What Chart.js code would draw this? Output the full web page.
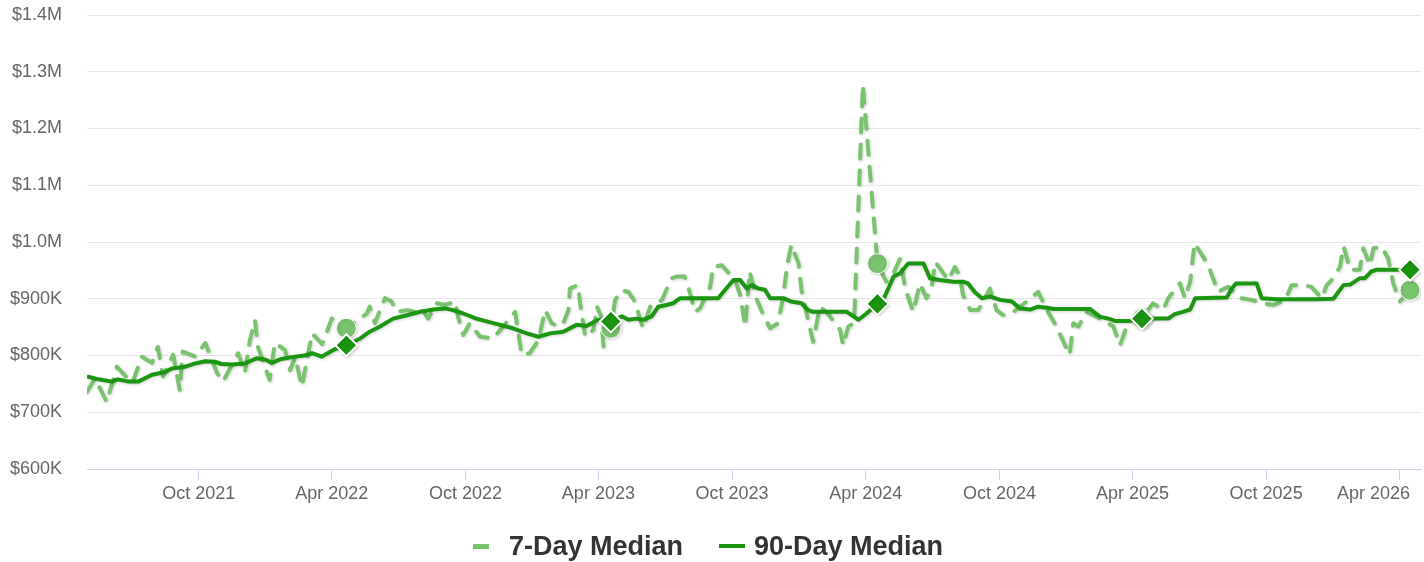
<!DOCTYPE html>
<html>
<head>
<meta charset="utf-8">
<script src="https://cdn.jsdelivr.net/npm/chart.js@4.4.1/dist/chart.umd.min.js"></script>
<style>
  html, body { margin: 0; padding: 0; background: #fff; }
  #wrap { position: relative; width: 1424px; height: 562px; }
  #legenda {
    position: absolute; left: 0; right: 0; top: 530px; height: 32px;
    display: flex; justify-content: center; align-items: center;
    padding-right: 8px;
    font: bold 27px "Liberation Sans", Arial, sans-serif; color: #333; line-height: 32px;
  }
  .marca7 { width: 16px; height: 5px; background: #79c36e; margin-right: 20px; }
  .marca90 { width: 26px; height: 4px; background: #1a9610; margin-left: 36px; margin-right: 9px; }
</style>
</head>
<body>
<div id="wrap">
  <canvas id="grafico-mediana" width="1424" height="562"></canvas>
  <div id="legenda">
    <span class="marca7"></span><span>7-Day Median</span>
    <span class="marca90"></span><span>90-Day Median</span>
  </div>
</div>
<script>
// dias contados a partir de 2021-05-01
const tickDays = [153, 335, 518, 700, 883, 1066, 1249, 1431, 1614, 1796];
const tickLabels = ['Oct 2021', 'Apr 2022', 'Oct 2022', 'Apr 2023', 'Oct 2023',
    'Apr 2024', 'Oct 2024', 'Apr 2025', 'Oct 2025', 'Apr 2026'];

// pontos com marcador (um por ano + o último)
const markerDays = [355, 717, 1082, 1444, 1811];

const dias7 = [0, 11, 27, 41, 62, 75, 89, 97, 104, 118, 127, 131, 148, 162, 178, 186, 207, 216, 223, 230,
    234, 250, 257, 271, 278, 285, 294, 308, 322, 335, 355, 383, 387, 394, 401, 408, 417, 424, 438, 449,
    458, 467, 479, 490, 504, 508, 515, 524, 538, 556, 586, 595, 606, 618, 627, 636, 645, 652, 659, 661,
    672, 675, 682, 693, 698, 704, 707, 717, 723, 732, 741, 750, 761, 771, 787, 800, 807, 818, 825, 832,
    839, 853, 857, 869, 887, 894, 901, 907, 917, 926, 935, 946, 953, 958, 964, 974, 978, 985, 994, 1003,
    1012, 1031, 1035, 1042, 1050, 1062, 1082, 1094, 1104, 1113, 1120, 1131, 1140, 1149, 1156, 1161, 1172, 1179, 1188, 1195,
    1199, 1209, 1220, 1236, 1245, 1254, 1268, 1286, 1302, 1314, 1327, 1345, 1350, 1357, 1368, 1387, 1405, 1414, 1423, 1437,
    1444, 1459, 1473, 1480, 1496, 1503, 1510, 1516, 1532, 1537, 1544, 1548, 1562, 1580, 1594, 1610, 1624, 1640, 1649, 1665,
    1676, 1690, 1697, 1706, 1715, 1720, 1724, 1729, 1742, 1747, 1756, 1761, 1772, 1781, 1788, 1797, 1811];

const mediana7 = [736, 760, 718, 780, 751, 798, 787, 815, 763, 801, 739, 807, 798, 822, 769, 754, 804, 769, 827, 862,
    815, 757, 822, 810, 774, 798, 745, 839, 820, 865, 848, 874, 886, 857, 880, 901, 895, 877, 880, 877,
    883, 865, 892, 889, 895, 868, 836, 857, 833, 830, 877, 801, 804, 827, 880, 857, 851, 857, 880, 918,
    924, 892, 833, 845, 886, 868, 815, 848, 898, 915, 912, 895, 848, 886, 898, 936, 939, 939, 912, 877,
    883, 921, 956, 959, 933, 907, 851, 948, 898, 871, 848, 857, 904, 956, 995, 962, 915, 874, 824, 886,
    877, 845, 818, 851, 857, 1277, 962, 930, 945, 971, 918, 877, 927, 901, 918, 965, 945, 933, 956, 939,
    907, 880, 880, 918, 880, 871, 877, 895, 912, 880, 851, 801, 857, 851, 877, 865, 851, 818, 851, 874,
    865, 892, 880, 901, 927, 901, 930, 998, 965, 951, 927, 912, 921, 901, 898, 892, 889, 898, 924, 924,
    921, 901, 924, 936, 956, 992, 974, 951, 951, 989, 959, 989, 992, 971, 927, 895, 915];

const dias90 = [0, 16, 34, 42, 57, 70, 89, 107, 116, 134, 148, 162, 175, 184, 198, 216, 232, 244, 253, 266,
    285, 298, 308, 321, 339, 355, 374, 387, 401, 419, 438, 456, 474, 490, 501, 515, 533, 556, 583, 602,
    618, 634, 652, 670, 684, 698, 709, 717, 732, 741, 752, 761, 773, 782, 793, 802, 812, 839, 864, 875,
    885, 894, 903, 910, 919, 928, 935, 953, 964, 978, 987, 994, 1040, 1056, 1067, 1082, 1092, 1104, 1113, 1124,
    1145, 1154, 1167, 1186, 1199, 1206, 1215, 1225, 1236, 1250, 1266, 1277, 1291, 1302, 1314, 1323, 1373, 1387, 1398, 1407,
    1428, 1444, 1480, 1489, 1500, 1510, 1517, 1560, 1567, 1573, 1601, 1608, 1628, 1683, 1706, 1720, 1729, 1742, 1749, 1758,
    1765, 1792, 1811];

const mediana90 = [763, 758, 754, 758, 754, 754, 766, 771, 777, 780, 786, 790, 789, 785, 784, 786, 795, 793, 787, 794,
    798, 800, 804, 798, 811, 818, 830, 842, 851, 865, 871, 877, 881, 883, 880, 874, 865, 857, 848, 839,
    833, 839, 842, 854, 852, 862, 864, 860, 869, 863, 865, 863, 869, 886, 889, 892, 901, 901, 901, 918,
    933, 933, 918, 924, 918, 916, 901, 901, 895, 892, 880, 877, 877, 863, 874, 891, 904, 939, 945, 962,
    962, 936, 933, 930, 930, 927, 912, 901, 904, 898, 895, 883, 881, 886, 884, 882, 882, 868, 865, 861,
    861, 865, 865, 873, 877, 881, 901, 902, 918, 927, 927, 901, 899, 899, 900, 924, 925, 936, 936, 948,
    951, 951, 951];

const COR_7 = '#79c36e';
const COR_90 = '#1a9610';

function montarPontos(dias, valores) {
    return dias.map((d, i) => ({ x: d, y: valores[i] * 1000 }));
}

function ehMarcador(ctx) {
    return ctx.raw && markerDays.includes(ctx.raw.x);
}

function formatarValor(valor) {
    if (valor >= 1000000) {
        return '$' + (valor / 1000000).toFixed(1) + 'M';
    }
    return '$' + Math.round(valor / 1000) + 'K';
}

const sombraLinhas = {
    id: 'sombraLinhas',
    beforeDatasetDraw(chart) {
        const ctx = chart.ctx;
        ctx.save();
        ctx.shadowColor = 'rgba(0, 0, 0, 0.18)';
        ctx.shadowBlur = 3;
        ctx.shadowOffsetX = 1;
        ctx.shadowOffsetY = 1;
    },
    afterDatasetDraw(chart) {
        chart.ctx.restore();
    }
};

// rótulos do eixo x desenhados na posição da escala, o último é puxado para dentro
const rotulosX = {
    id: 'rotulosX',
    afterDraw(chart) {
        const ctx = chart.ctx;
        const eixo = chart.scales.x;
        const area = chart.chartArea;
        ctx.save();
        ctx.font = '18px "Liberation Sans", Arial, sans-serif';
        ctx.fillStyle = '#666666';
        ctx.textAlign = 'center';
        ctx.textBaseline = 'middle';
        for (let i = 0; i < tickDays.length; i++) {
            const texto = tickLabels[i];
            const largura = ctx.measureText(texto).width;
            let x = eixo.getPixelForValue(tickDays[i]);
            const limite = area.right - 11;
            if (x + largura / 2 > limite) {
                x = limite - largura / 2;
            }
            ctx.fillText(texto, x, area.bottom + 25);
        }
        ctx.restore();
    }
};

const canvas = document.getElementById('grafico-mediana');

new Chart(canvas, {
    type: 'line',
    data: {
        datasets: [
            {
                label: '7-Day Median',
                data: montarPontos(dias7, mediana7),
                borderColor: COR_7,
                backgroundColor: COR_7,
                borderWidth: 4,
                borderDash: [14, 12],
                borderCapStyle: 'round',
                borderJoinStyle: 'round',
                tension: 0,
                order: 2,
                pointStyle: 'circle',
                pointRadius: (ctx) => ehMarcador(ctx) ? 10 : 0,
                pointBackgroundColor: COR_7,
                pointBorderColor: '#ffffff',
                pointBorderWidth: 1
            },
            {
                label: '90-Day Median',
                data: montarPontos(dias90, mediana90),
                borderColor: COR_90,
                backgroundColor: COR_90,
                borderWidth: 4,
                borderJoinStyle: 'round',
                tension: 0,
                order: 1,
                pointStyle: 'rectRot',
                pointRadius: (ctx) => ehMarcador(ctx) ? 11 : 0,
                pointBackgroundColor: COR_90,
                pointBorderColor: '#ffffff',
                pointBorderWidth: 2
            }
        ]
    },
    options: {
        responsive: false,
        animation: false,
        events: [],
        layout: {
            autoPadding: false,
            padding: { top: 15, right: 3, bottom: 0, left: 0 }
        },
        plugins: {
            legend: { display: false },
            tooltip: { enabled: false }
        },
        scales: {
            x: {
                type: 'linear',
                min: 0,
                max: 1826,
                afterBuildTicks: (scale) => {
                    scale.ticks = tickDays.map(d => ({ value: d }));
                },
                afterFit: (scale) => {
                    scale.height = 93;
                    scale.paddingLeft = 0;
                    scale.paddingRight = 0;
                },
                ticks: { display: false },
                grid: {
                    drawOnChartArea: false,
                    drawTicks: true,
                    tickLength: 11,
                    color: '#ccd6eb'
                },
                border: { color: '#ccd6eb', width: 1 }
            },
            y: {
                min: 600000,
                max: 1400000,
                afterFit: (scale) => {
                    scale.width = 87;
                    scale.paddingTop = 0;
                    scale.paddingBottom = 0;
                },
                ticks: {
                    stepSize: 100000,
                    padding: 25,
                    color: '#666666',
                    font: { family: '"Liberation Sans", Arial, sans-serif', size: 18 },
                    callback: (valor) => formatarValor(valor)
                },
                grid: {
                    drawTicks: false,
                    color: (ctx) => ctx.tick && ctx.tick.value === 600000 ? 'rgba(0,0,0,0)' : '#e6e6e6'
                },
                border: { display: false }
            }
        }
    },
    plugins: [sombraLinhas, rotulosX]
});
</script>
</body>
</html>
